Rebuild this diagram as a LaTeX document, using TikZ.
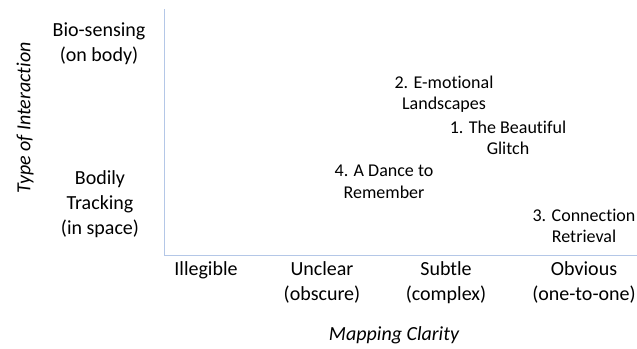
\documentclass[tikz,border=0pt]{standalone}
\usepackage{fontspec}
\setmainfont{Carlito}[Ligatures=NoCommon]
\usetikzlibrary{positioning}
\definecolor{axisblue}{HTML}{B4C7E7}

\begin{document}
\begin{tikzpicture}[
  x = 1pt, y = -1pt,
  cat/.style   = {align=center, inner sep=0pt,
                  font=\fontsize{20}{25}\selectfont},
  proj/.style  = {align=center, inner sep=0pt,
                  font=\fontsize{18}{21.5}\selectfont},
  ttl/.style   = {inner sep=0pt, font=\fontsize{20}{24}\selectfont\itshape},
  axis/.style  = {draw=axisblue, line width=1pt},
]
\useasboundingbox (0,0) rectangle (637,348);

% axes
\coordinate (top)    at (164,9);
\coordinate (origin) at (164,255);
\coordinate (right)  at (637,255);
\draw[axis] (top) -- (origin) -- (right);

% y-axis categories
\node[cat] (bio)  at (99,44)  {Bio-sensing\\(on body)};
\node[cat] (body) at (100,204) {Bodily\\Tracking\\(in space)};
\node[ttl, rotate=90] (ytitle) at (25,118) {Type of Interaction};

% x-axis categories
\node[cat, anchor=north] (illeg)   at (206,261) {Illegible};
\node[cat, anchor=north] (unclear) at (322,261) {Unclear\\(obscure)};
\node[cat, anchor=north] (subtle)  at (446,261) {Subtle\\(complex)};
\node[cat, anchor=north] (obv)     at (584,261) {Obvious\\(one-to-one)};
\node[ttl] (xtitle) at (394,335) {Mapping Clarity};

% projects
\node[proj] (emo)    at (444,94)  {2. E-motional\\Landscapes};
\node[proj] (glitch) at (508,138) {1. The Beautiful\\Glitch};
\node[proj] (dance)  at (384,182) {4. A Dance to\\Remember};
\node[proj] (conn)   at (584,226) {3. Connection\\Retrieval};

\end{tikzpicture}
\end{document}
